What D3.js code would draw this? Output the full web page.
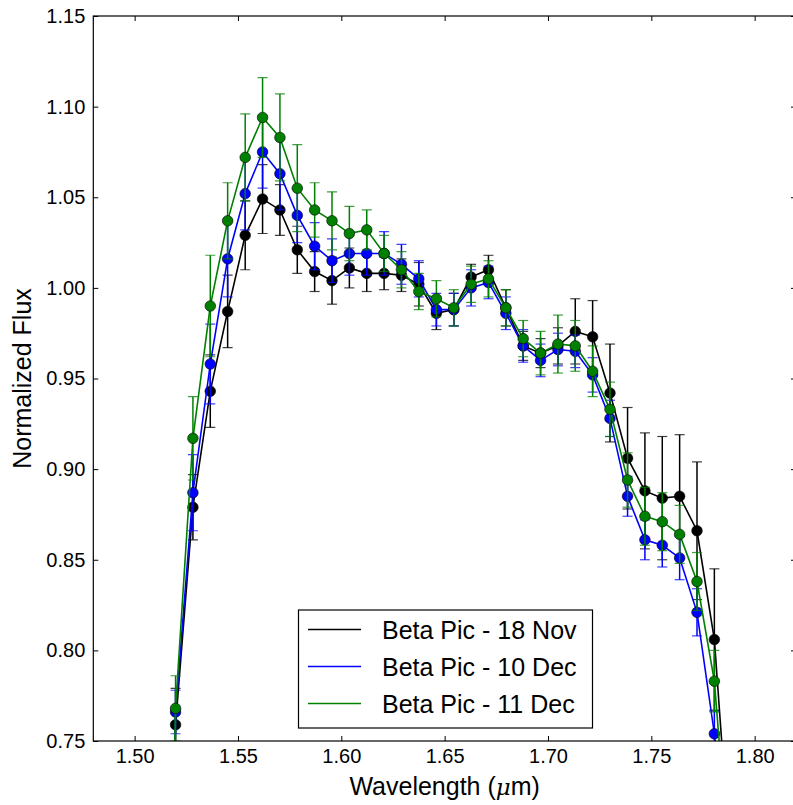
<!DOCTYPE html>
<html>
<head>
<meta charset="utf-8">
<script src="https://cdn.jsdelivr.net/npm/d3@7"></script>
<style>
  body { margin: 0; background: #fff; }
  svg { font-family: "Liberation Sans", Arial, sans-serif; }
</style>
</head>
<body>
<svg id="chart" width="793" height="805"></svg>
<script>
// wavelengths (micron); first and last channel fall off the plotted range
const wavelength = [1.5114, 1.5198, 1.5282, 1.5366, 1.5450, 1.5535, 1.5619, 1.5703, 1.5787,
  1.5871, 1.5955, 1.6039, 1.6123, 1.6207, 1.6291, 1.6375, 1.6460, 1.6544, 1.6628,
  1.6712, 1.6796, 1.6880, 1.6964, 1.7048, 1.7132, 1.7216, 1.7300, 1.7385, 1.7469,
  1.7553, 1.7637, 1.7721, 1.7805, 1.7889];

const flux18Nov = [0.30, 0.759, 0.879, 0.943, 0.987, 1.029, 1.049, 1.043, 1.021, 1.009, 1.004,
  1.011, 1.008, 1.008, 1.007, 1.002, 0.986, 0.988, 1.006, 1.010, 0.989, 0.968,
  0.964, 0.968, 0.976, 0.973, 0.942, 0.906, 0.888, 0.884, 0.885, 0.866, 0.806, 0.673];
const err18Nov = [0.02, 0.020, 0.018, 0.020, 0.020, 0.019, 0.019, 0.014, 0.013, 0.011, 0.013,
  0.011, 0.010, 0.009, 0.009, 0.012, 0.009, 0.009, 0.007, 0.008, 0.010, 0.008,
  0.008, 0.010, 0.018, 0.020, 0.027, 0.028, 0.032, 0.034, 0.034, 0.038, 0.039, 0.04];

const flux10Dec = [0.30, 0.766, 0.887, 0.958, 1.016, 1.052, 1.075, 1.063, 1.040, 1.023, 1.015,
  1.019, 1.019, 1.019, 1.013, 1.005, 0.988, 0.988, 1.000, 1.003, 0.986, 0.968,
  0.960, 0.966, 0.965, 0.952, 0.928, 0.885, 0.861, 0.858, 0.851, 0.821, 0.754, 0.650];
const err10Dec = [0.012, 0.012, 0.021, 0.022, 0.021, 0.020, 0.020, 0.020, 0.015, 0.013, 0.012,
  0.012, 0.012, 0.012, 0.011, 0.010, 0.009, 0.009, 0.010, 0.009, 0.009, 0.009,
  0.009, 0.009, 0.009, 0.0095, 0.010, 0.011, 0.011, 0.012, 0.012, 0.013, 0.0125, 0.013];

const flux11Dec = [0.30, 0.768, 0.917, 0.990, 1.037, 1.072, 1.094, 1.083, 1.055, 1.043, 1.037,
  1.030, 1.032, 1.019, 1.010, 0.998, 0.994, 0.989, 1.002, 1.005, 0.989, 0.972,
  0.964, 0.969, 0.968, 0.954, 0.933, 0.894, 0.874, 0.871, 0.864, 0.838, 0.783, 0.663];
const err11Dec = [0.018, 0.018, 0.023, 0.028, 0.021, 0.024, 0.022, 0.024, 0.024, 0.015, 0.016,
  0.015, 0.011, 0.010, 0.010, 0.010, 0.010, 0.010, 0.010, 0.010, 0.010, 0.010,
  0.012, 0.016, 0.014, 0.014, 0.015, 0.015, 0.016, 0.016, 0.016, 0.016, 0.017, 0.017];

const seriesNames = ["Beta Pic - 18 Nov", "Beta Pic - 10 Dec", "Beta Pic - 11 Dec"];
const seriesColors = ["#000000", "#0000ff", "#008000"];
const xTicks = [1.50, 1.55, 1.60, 1.65, 1.70, 1.75, 1.80];
const yTicks = [0.75, 0.80, 0.85, 0.90, 0.95, 1.00, 1.05, 1.10, 1.15];

const series = [
  { name: seriesNames[0], color: seriesColors[0], flux: flux18Nov, err: err18Nov },
  { name: seriesNames[1], color: seriesColors[1], flux: flux10Dec, err: err10Dec },
  { name: seriesNames[2], color: seriesColors[2], flux: flux11Dec, err: err11Dec }
];

const SIZE = { left: 93.3, top: 16, right: 796, bottom: 741 };

const svg = d3.select("#chart");

const x = d3.scaleLinear().domain([1.48, 1.82]).range([SIZE.left, SIZE.right]);
const y = d3.scaleLinear().domain([0.75, 1.15]).range([SIZE.bottom, SIZE.top]);

svg.append("defs").append("clipPath").attr("id", "plot-clip")
  .append("rect")
  .attr("x", SIZE.left).attr("y", SIZE.top)
  .attr("width", SIZE.right - SIZE.left).attr("height", SIZE.bottom - SIZE.top);

const plot = svg.append("g").attr("clip-path", "url(#plot-clip)");

const line = d3.line().x(d => x(d.w)).y(d => y(d.f));

series.forEach(s => {
  const pts = wavelength.map((w, i) => ({ w, f: s.flux[i], e: s.err[i] }));
  const g = plot.append("g");

  // error bars
  const eb = g.selectAll(".eb").data(pts).enter().append("g");
  eb.append("line")
    .attr("x1", d => x(d.w)).attr("x2", d => x(d.w))
    .attr("y1", d => y(d.f - d.e)).attr("y2", d => y(d.f + d.e))
    .attr("stroke", s.color).attr("stroke-width", 1.5);
  [-1, 1].forEach(sign => {
    eb.append("line")
      .attr("x1", d => x(d.w) - 5).attr("x2", d => x(d.w) + 5)
      .attr("y1", d => y(d.f + sign * d.e)).attr("y2", d => y(d.f + sign * d.e))
      .attr("stroke", s.color).attr("stroke-width", 1.2).attr("stroke-opacity", 0.75);
  });

  g.append("path")
    .attr("d", line(pts))
    .attr("fill", "none")
    .attr("stroke", s.color)
    .attr("stroke-width", 1.6);

  g.selectAll("circle").data(pts).enter().append("circle")
    .attr("cx", d => x(d.w)).attr("cy", d => y(d.f))
    .attr("r", 5.3)
    .attr("fill", s.color)
    .attr("stroke", "#000").attr("stroke-width", 0.6);
});

// axes, ticks pointing inward on all sides
const axisFont = g => g.selectAll("text")
  .attr("font-size", 20)
  .attr("fill", "#000")
  .attr("font-family", "Liberation Sans, Arial, sans-serif");

const xAxisCall = d3.axisBottom(x).tickValues(xTicks).tickFormat(d3.format(".2f"))
  .tickSizeInner(-5).tickSizeOuter(0).tickPadding(8);
const yAxisCall = d3.axisLeft(y).tickValues(yTicks).tickFormat(d3.format(".2f"))
  .tickSizeInner(-5).tickSizeOuter(0).tickPadding(8);

const xAxis = svg.append("g").attr("transform", `translate(0,${SIZE.bottom})`).call(xAxisCall);
const yAxis = svg.append("g").attr("transform", `translate(${SIZE.left},0)`).call(yAxisCall);
xAxis.call(axisFont); yAxis.call(axisFont);

svg.append("g").attr("transform", `translate(0,${SIZE.top})`)
  .call(d3.axisTop(x).tickValues(xTicks).tickFormat("").tickSizeInner(-5).tickSizeOuter(0));
svg.append("g").attr("transform", `translate(${SIZE.right},0)`)
  .call(d3.axisRight(y).tickValues(yTicks).tickFormat("").tickSizeInner(-5).tickSizeOuter(0));

svg.selectAll(".domain").remove();
svg.selectAll(".tick line").attr("stroke", "#000").attr("stroke-width", 1);

svg.append("rect")
  .attr("x", SIZE.left).attr("y", SIZE.top)
  .attr("width", SIZE.right - SIZE.left).attr("height", SIZE.bottom - SIZE.top)
  .attr("fill", "none").attr("stroke", "#000").attr("stroke-width", 1.2);

// axis labels
const xLabel = svg.append("text")
  .attr("x", (SIZE.left + SIZE.right) / 2)
  .attr("y", 795)
  .attr("text-anchor", "middle")
  .attr("font-size", 25);
xLabel.append("tspan").text("Wavelength (");
xLabel.append("tspan").attr("font-style", "italic").attr("font-family", "DejaVu Serif, serif").attr("font-size", 23).text("\u03bc");
xLabel.append("tspan").text("m)");

svg.append("text")
  .attr("transform", `translate(31,${(SIZE.top + SIZE.bottom) / 2}) rotate(-90)`)
  .attr("text-anchor", "middle")
  .attr("font-size", 25)
  .text("Normalized Flux");

// legend
const legend = svg.append("g");
legend.append("rect")
  .attr("x", 298.5).attr("y", 610)
  .attr("width", 294).attr("height", 118)
  .attr("fill", "#fff").attr("stroke", "#000").attr("stroke-width", 1.2);

const legendY = d3.scalePoint().domain(seriesNames).range([629.5, 703.5]);
series.forEach(s => {
  legend.append("line")
    .attr("x1", 308).attr("x2", 361)
    .attr("y1", legendY(s.name)).attr("y2", legendY(s.name))
    .attr("stroke", s.color).attr("stroke-width", 1.5);
  legend.append("text")
    .attr("x", 382).attr("y", legendY(s.name) + 9)
    .attr("font-size", 25)
    .text(s.name);
});
</script>
</body>
</html>
